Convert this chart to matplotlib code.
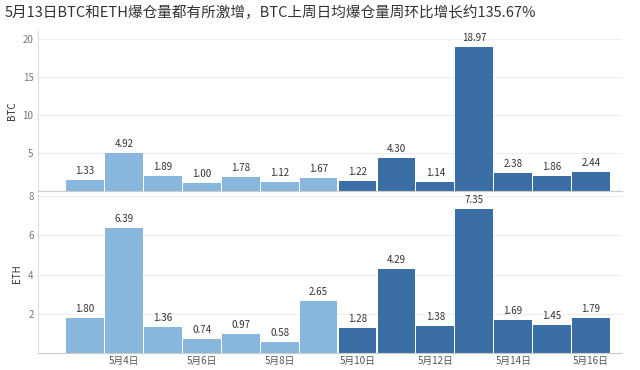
import numpy as np
import matplotlib.pyplot as plt

plt.rcParams['font.family'] = ['Noto Sans CJK SC', 'DejaVu Sans']

days = ["5月3日", "5月4日", "5月5日", "5月6日", "5月7日", "5月8日", "5月9日",
        "5月10日", "5月11日", "5月12日", "5月13日", "5月14日", "5月15日", "5月16日"]
btc = [1.33, 4.92, 1.89, 1.00, 1.78, 1.12, 1.67, 1.22, 4.30, 1.14, 18.97, 2.38, 1.86, 2.44]
eth = [1.80, 6.39, 1.36, 0.74, 0.97, 0.58, 2.65, 1.28, 4.29, 1.38, 7.35, 1.69, 1.45, 1.79]
title = "5月13日BTC和ETH爆仓量都有所激增，BTC上周日均爆仓量周环比增长约135.67%"

light = "#88b6dc"
dark = "#3b6ea5"
colors = [light] * 7 + [dark] * 7
x = np.arange(len(days))

fig = plt.figure(figsize=(6.4, 3.7), dpi=100)
fig.text(0.008, 0.965, title, fontsize=10.5, color="#333333", va="center")

ax1 = fig.add_axes([0.06, 0.485, 0.912, 0.43])
ax2 = fig.add_axes([0.06, 0.045, 0.912, 0.43])


def draw(ax, vals, ylim, ticks, label):
    ax.bar(x, vals, width=0.97, color=colors, zorder=2)
    for xi, v in zip(x, vals):
        ax.text(xi, v + ylim * 0.025, f"{v:.2f}", ha="center", va="bottom",
                fontsize=7, color="#333333", zorder=3)
    ax.set_xlim(-1.2, 13.8)
    ax.set_ylim(0, ylim)
    ax.set_yticks(ticks)
    ax.tick_params(axis="y", length=0, labelsize=7, labelcolor="#777777")
    ax.set_ylabel(label, fontsize=7, color="#333333")
    ax.grid(axis="y", color="#eeeeee", linewidth=0.8, zorder=0)
    for s in ["top", "right"]:
        ax.spines[s].set_visible(False)
    ax.spines["left"].set_color("#dddddd")
    ax.spines["bottom"].set_color("#cccccc")


draw(ax1, btc, 21, [5, 10, 15, 20], "BTC")
ax1.set_xticks([])

draw(ax2, eth, 8.1, [2, 4, 6, 8], "ETH")
ax2.set_xticks(x[1::2])
ax2.set_xticklabels(days[1::2])
ax2.tick_params(axis="x", length=0, labelsize=7, labelcolor="#555555", pad=2)

plt.savefig("out.png", dpi=100)
